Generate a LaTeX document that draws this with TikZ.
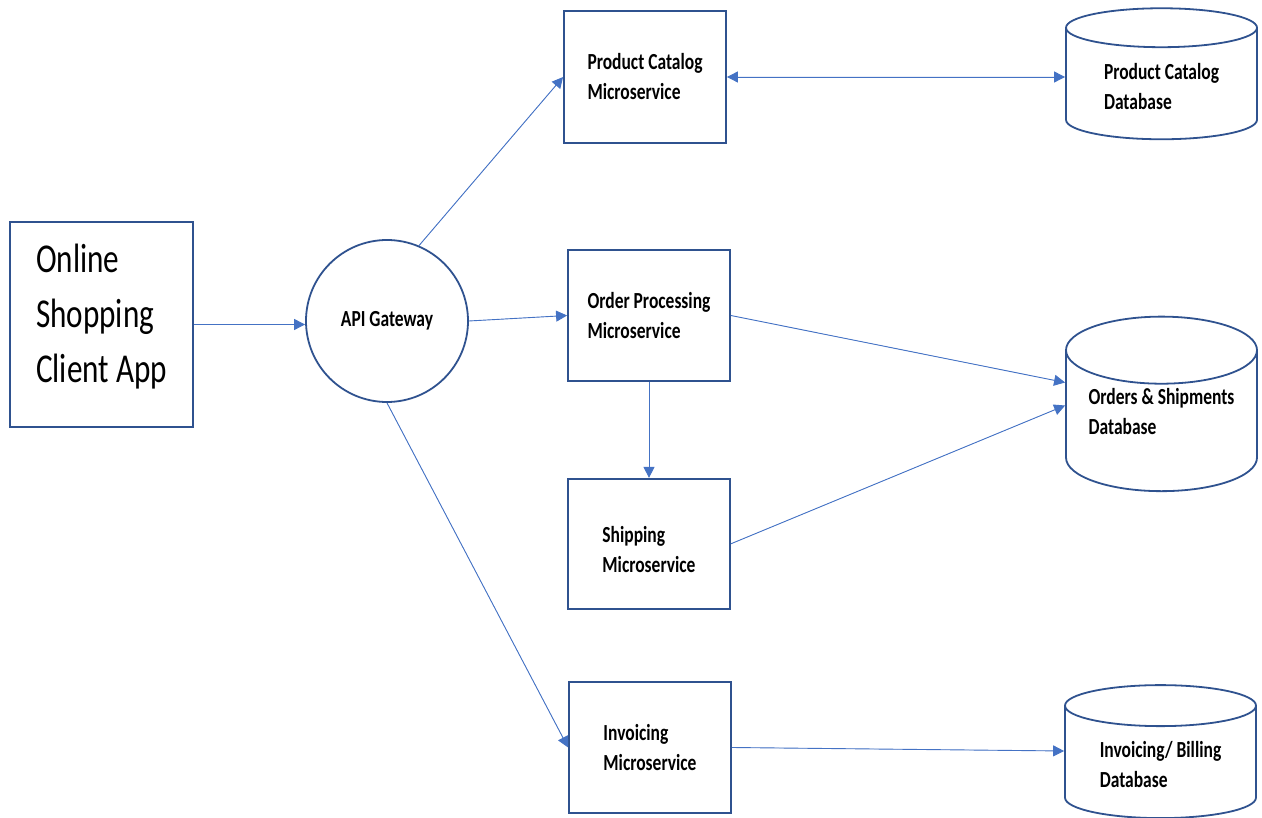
\documentclass[tikz,border=0pt]{standalone}
\usepackage{fontspec}
\setmainfont{Carlito}[FakeStretch=0.76]
\usepackage{tikz}
\usetikzlibrary{positioning,shapes.geometric,arrows.meta}
\definecolor{boxblue}{HTML}{2F528F}
\definecolor{linkblue}{HTML}{4472C4}
\tikzset{
  clientbox/.style={draw=boxblue, line width=1.8pt, rectangle, minimum width=183pt, minimum height=205pt, align=left, text depth=22pt, font=\fontsize{41}{55}\selectfont},
  gateway/.style={draw=boxblue, line width=1.8pt, circle, minimum size=162pt, inner sep=0pt, font=\bfseries\fontsize{23}{30}\selectfont},
  service/.style={draw=boxblue, line width=1.8pt, rectangle, minimum width=162pt, minimum height=131pt, align=left, font=\bfseries\fontsize{23}{30}\selectfont},
  dbstore/.style={draw=boxblue, line width=1.8pt, cylinder, shape border rotate=90, aspect=0.32, minimum width=191pt, align=left, font=\bfseries\fontsize{23}{30}\selectfont},
  link/.style={-{Triangle[length=11pt,width=11pt]}, draw=linkblue, fill=linkblue, line width=0.9pt},
  twoway/.style={{Triangle[length=11pt,width=11pt]}-{Triangle[length=11pt,width=11pt]}, draw=linkblue, fill=linkblue, line width=0.9pt}
}

\begin{document}
\begin{tikzpicture}[x=1pt, y=-1pt]
  \useasboundingbox (0,0) rectangle (1262,818);
  \node[clientbox] (client) at (101.5,324.5) {Online\\Shopping\\Client App};
  \node[gateway] (api) at (387,321) {API Gateway};
  \node[service, minimum height=132pt] (catalog) at (645,77) {Product Catalog\\Microservice};
  \node[service] (orders) at (649,315.5) {Order Processing\\Microservice};
  \node[service, below=96pt of orders, minimum height=130pt, text height=58pt] (shipping) {Shipping\\Microservice};
  \node[service] (invoicing) at (650,747.5) {Invoicing\\Microservice};
  % databases
  \node[dbstore, minimum height=131pt] (catalogdb) at (1161.5,86.5) {Product Catalog\\Database};
  \node[dbstore, minimum height=167pt, aspect=0.44, text depth=29pt] (ordersdb) at (1161.5,425.5) {Orders \& Shipments\\Database};
  \node[dbstore, minimum height=133pt] (billingdb) at (1160.5,765) {Invoicing/ Billing\\Database};

  \draw[link] (client.east) -- (client.east -| api.west);
  \draw[link] (api.67) -- (catalog.west);
  \draw[twoway] (catalog.east) -- (catalog.east -| catalogdb.west);
  \draw[link] (api.east) -- (orders.west);
  \draw[link] (orders.east) -- ([yshift=43pt]ordersdb.west);
  \draw[link] (orders) -- (shipping);
  \draw[link] (shipping.east) -- ([yshift=20pt]ordersdb.west);
  \draw[link] (api.south) -- (invoicing.west);
  \draw[link] (invoicing.east) -- ([yshift=14pt]billingdb.west);
\end{tikzpicture}
\end{document}
